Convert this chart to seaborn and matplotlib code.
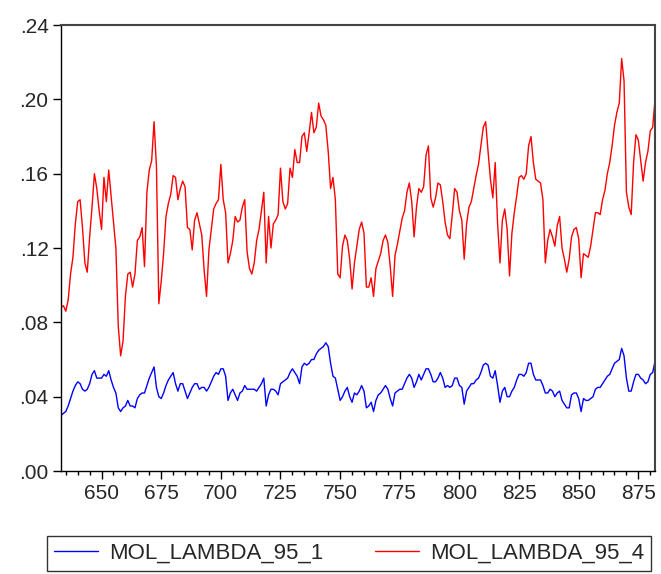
import numpy as np
import pandas as pd
import matplotlib
matplotlib.use("Agg")
import matplotlib.pyplot as plt
import seaborn as sns
from matplotlib.ticker import MultipleLocator, FuncFormatter

# observation numbers on the x axis
obs = np.arange(633, 883)

mol_lambda_95_4 = [
    0.088, 0.089, 0.086, 0.092, 0.106, 0.115, 0.133, 0.145, 0.146, 0.131,
    0.112, 0.107, 0.126, 0.142, 0.160, 0.152, 0.140, 0.130, 0.158, 0.145,
    0.162, 0.148, 0.134, 0.120, 0.078, 0.062, 0.070, 0.094, 0.106, 0.107,
    0.099, 0.106, 0.124, 0.126, 0.131, 0.110, 0.150, 0.162, 0.167, 0.188,
    0.164, 0.090, 0.102, 0.117, 0.137, 0.144, 0.149, 0.159, 0.158, 0.146,
    0.152, 0.156, 0.153, 0.131, 0.130, 0.119, 0.135, 0.139, 0.133, 0.127,
    0.108, 0.094, 0.119, 0.130,
    0.141, 0.144, 0.146, 0.165, 0.146, 0.139, 0.112, 0.117, 0.124, 0.137,
    0.134, 0.135, 0.142, 0.146, 0.118, 0.109, 0.106, 0.112, 0.124, 0.130,
    0.140, 0.150, 0.112, 0.137, 0.120, 0.133, 0.135, 0.138, 0.163, 0.145,
    0.141, 0.144, 0.163, 0.158, 0.173, 0.166, 0.166, 0.180, 0.182, 0.172,
    0.182, 0.193, 0.182, 0.185, 0.198, 0.191, 0.189, 0.186, 0.172, 0.152,
    0.158, 0.146, 0.106, 0.104, 0.121, 0.127, 0.124, 0.114, 0.098, 0.112,
    0.121,
    0.130, 0.134, 0.128, 0.099, 0.099, 0.104, 0.094, 0.109, 0.113, 0.117,
    0.124, 0.127, 0.123, 0.110, 0.094, 0.116, 0.122, 0.129, 0.136, 0.140,
    0.150, 0.155, 0.145, 0.126, 0.142, 0.152, 0.150, 0.153, 0.170, 0.175,
    0.147, 0.142, 0.147, 0.155, 0.154, 0.145, 0.134, 0.127, 0.125, 0.138,
    0.152, 0.150, 0.140, 0.135, 0.114, 0.133, 0.142, 0.145, 0.152, 0.159,
    0.165, 0.175, 0.185, 0.188, 0.172, 0.157, 0.147, 0.166, 0.133, 0.112,
    0.135, 0.141, 0.130,
    0.105, 0.128, 0.139, 0.148, 0.158, 0.159, 0.157, 0.160, 0.175, 0.180,
    0.166, 0.157, 0.156, 0.155, 0.146, 0.112, 0.124, 0.130, 0.126, 0.121,
    0.132, 0.137, 0.120, 0.114, 0.107, 0.114, 0.126, 0.130, 0.131, 0.125,
    0.104, 0.117, 0.116, 0.115, 0.121, 0.130, 0.139, 0.139, 0.138, 0.146,
    0.151, 0.160, 0.166, 0.175, 0.186, 0.193, 0.198, 0.222, 0.210, 0.150,
    0.142, 0.138, 0.166, 0.181, 0.178, 0.167, 0.156, 0.166, 0.172, 0.183,
    0.185, 0.200,
]

mol_lambda_95_1 = [
    0.030, 0.031, 0.032, 0.035, 0.039, 0.043, 0.046, 0.048, 0.047, 0.044,
    0.043, 0.044, 0.047, 0.052, 0.054, 0.050, 0.050, 0.050, 0.052, 0.051,
    0.054, 0.049, 0.045, 0.042, 0.034, 0.032, 0.034, 0.035, 0.038, 0.035,
    0.035, 0.034, 0.039, 0.041, 0.042, 0.042, 0.046, 0.050, 0.053, 0.056,
    0.045, 0.040, 0.039, 0.042, 0.046, 0.049, 0.051, 0.053, 0.047, 0.043,
    0.047, 0.047, 0.043, 0.039, 0.042, 0.045, 0.047, 0.047, 0.044, 0.045,
    0.045, 0.043, 0.045, 0.048, 0.051, 0.053, 0.052, 0.055, 0.055, 0.051,
    0.038, 0.042, 0.044, 0.041, 0.038, 0.042, 0.043, 0.046, 0.044, 0.044,
    0.044, 0.044,
    0.043, 0.045, 0.047, 0.050, 0.035, 0.041, 0.044, 0.044, 0.043, 0.041,
    0.047, 0.048, 0.049, 0.050, 0.053, 0.055, 0.053, 0.051, 0.047, 0.056,
    0.058, 0.057, 0.058, 0.060, 0.060, 0.063, 0.065, 0.066, 0.067, 0.069,
    0.067, 0.058, 0.051, 0.050, 0.044, 0.038, 0.040, 0.043, 0.045, 0.040,
    0.037, 0.042, 0.041, 0.043, 0.046, 0.043, 0.034, 0.035, 0.037, 0.032,
    0.038, 0.041, 0.042, 0.044, 0.046, 0.044, 0.039, 0.035, 0.042, 0.043,
    0.044, 0.044, 0.047, 0.050, 0.052, 0.050, 0.045, 0.048, 0.052, 0.049,
    0.052, 0.055, 0.055, 0.052, 0.048, 0.048, 0.050, 0.053, 0.050, 0.045,
    0.046,
    0.045, 0.046, 0.050, 0.050, 0.046, 0.045, 0.036, 0.043, 0.045, 0.047,
    0.047, 0.049, 0.050, 0.053, 0.057, 0.058, 0.057, 0.051, 0.050, 0.054,
    0.046, 0.037, 0.043, 0.045, 0.040, 0.040, 0.043, 0.045, 0.049, 0.052,
    0.052, 0.051, 0.053, 0.058, 0.058, 0.052, 0.049, 0.049, 0.049, 0.046,
    0.042, 0.042, 0.044, 0.043, 0.040, 0.042, 0.043, 0.038, 0.036, 0.034,
    0.034, 0.041, 0.042, 0.042, 0.039, 0.032, 0.039, 0.038, 0.038, 0.039,
    0.040, 0.044, 0.045, 0.045, 0.047, 0.049, 0.051, 0.052, 0.055, 0.058,
    0.059, 0.060, 0.066, 0.062, 0.050, 0.043, 0.043, 0.048, 0.052, 0.052,
    0.050, 0.049, 0.047, 0.048, 0.052, 0.053, 0.059,
]

series_names = ["MOL_LAMBDA_95_1", "MOL_LAMBDA_95_4"]
series_colors = {"MOL_LAMBDA_95_1": "#0000ff", "MOL_LAMBDA_95_4": "#ff0000"}

sns.set_style("ticks")
plt.rcParams["font.family"] = ["Liberation Sans Narrow", "Liberation Sans", "DejaVu Sans"]
plt.rcParams["font.size"] = 15

df = pd.DataFrame({"obs": obs,
                   series_names[0]: mol_lambda_95_1,
                   series_names[1]: mol_lambda_95_4})
long_df = df.melt(id_vars="obs", var_name="series", value_name="value")

fig = plt.figure(figsize=(6.61, 5.74), dpi=100)
ax = fig.add_axes([0.0923, 0.1794, 0.8987, 0.777])

sns.lineplot(data=long_df, x="obs", y="value", hue="series",
             hue_order=series_names, palette=series_colors,
             linewidth=1.0, ax=ax)

ax.set_xlim(633, 882)
ax.set_ylim(0, 0.24)
ax.xaxis.set_major_locator(MultipleLocator(25))
ax.xaxis.set_minor_locator(MultipleLocator(5))
ax.yaxis.set_major_locator(MultipleLocator(0.04))
ax.yaxis.set_major_formatter(FuncFormatter(lambda v, p: f"{v:.2f}"[1:] if v < 1 else f"{v:.2f}"))
ax.tick_params(axis="both", which="major", direction="out", length=6, width=1,
               color="black", labelsize=15, pad=3)
ax.tick_params(axis="x", which="minor", direction="out", length=3, width=1, color="black")
ax.tick_params(top=False, right=False, which="both")
ax.set_xlabel("")
ax.set_ylabel("")
for side in ax.spines:
    ax.spines[side].set_visible(True)
    ax.spines[side].set_color("black")
    ax.spines[side].set_linewidth(1.0)
for side in ["top", "right"]:
    ax.spines[side].set_color("#444444")
    ax.spines[side].set_linewidth(1.5)

handles, labels = ax.get_legend_handles_labels()
ax.get_legend().remove()
leg = fig.legend(handles, labels, loc="lower left", bbox_to_anchor=(0.066, 0.0),
                 ncol=2, frameon=True, fancybox=False, edgecolor="black",
                 fontsize=16, handlelength=2.0, handletextpad=0.5,
                 columnspacing=2.3, borderaxespad=0.15, borderpad=0.3)
leg.get_frame().set_linewidth(1.0)

fig.savefig("out.png", dpi=100)
